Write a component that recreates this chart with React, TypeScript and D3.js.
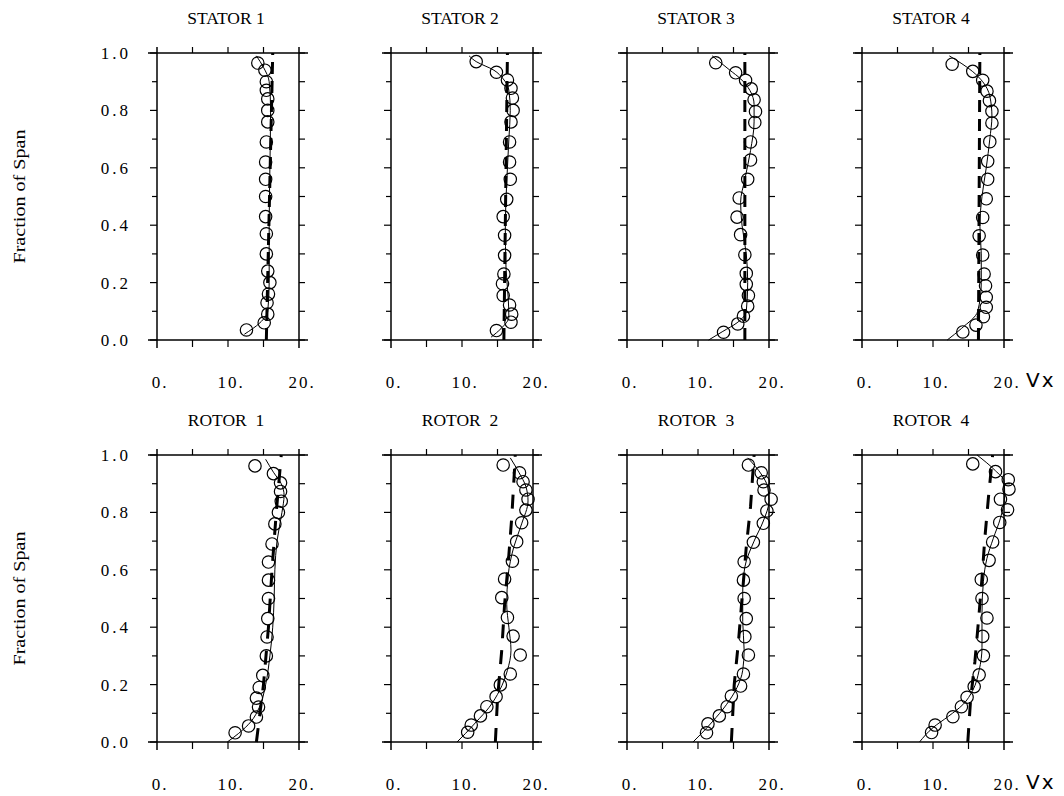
import React from "react";
import * as d3 from "d3";

type Pt = [number, number];

// measured points: [Vx, fraction of span]
const stator1Points: Pt[] = [
  [14.2, 0.965], [15.2, 0.94], [15.4, 0.9], [15.4, 0.87], [15.6, 0.84], [15.6, 0.8], [15.6, 0.76],
  [15.4, 0.69], [15.3, 0.62], [15.3, 0.56], [15.3, 0.5], [15.3, 0.43], [15.4, 0.37], [15.4, 0.3],
  [15.6, 0.24], [15.9, 0.2], [15.7, 0.16], [15.5, 0.13], [15.6, 0.09], [15.1, 0.06], [12.6, 0.035],
];
const stator1Solid: Pt[] = [
  [12.3, 0.02], [14.5, 0.06], [15.6, 0.1], [15.8, 0.2], [15.8, 0.4], [15.9, 0.6], [16.0, 0.8],
  [15.8, 0.9], [15.0, 0.95], [14.0, 0.99],
];
const stator1Dashed: Pt[] = [[15.4, 0], [16.3, 1]];

const stator2Points: Pt[] = [
  [12.0, 0.97], [14.85, 0.933], [16.4, 0.906], [16.9, 0.877], [17.1, 0.843], [17.2, 0.8], [16.9, 0.76],
  [16.7, 0.69], [16.7, 0.62], [16.8, 0.56], [16.3, 0.49], [15.8, 0.43], [16.0, 0.365], [16.0, 0.295],
  [15.9, 0.23], [15.7, 0.196], [15.8, 0.155], [16.7, 0.122], [17.0, 0.09], [16.9, 0.062], [14.85, 0.033],
];
const stator2Solid: Pt[] = [
  [14.1, 0.01], [15.5, 0.04], [16.6, 0.08], [16.5, 0.15], [16.2, 0.25], [16.1, 0.4], [16.3, 0.55],
  [16.6, 0.7], [16.8, 0.8], [16.6, 0.87], [15.8, 0.91], [14.5, 0.94], [12.0, 0.97], [11.0, 0.99],
];
const stator2Dashed: Pt[] = [[15.9, 0], [16.4, 1]];

const stator3Points: Pt[] = [
  [12.5, 0.966], [15.3, 0.931], [16.7, 0.905], [17.5, 0.875], [17.9, 0.837], [18.1, 0.796], [18.0, 0.758],
  [17.4, 0.69], [17.4, 0.627], [17.0, 0.56], [15.8, 0.495], [15.5, 0.428], [16.0, 0.367], [16.6, 0.297],
  [16.8, 0.232], [16.8, 0.194], [17.1, 0.155], [17.0, 0.118], [16.4, 0.083], [15.6, 0.056], [13.6, 0.027],
];
const stator3Solid: Pt[] = [
  [11.5, 0.0], [13.5, 0.03], [15.5, 0.06], [16.8, 0.1], [17.0, 0.2], [16.8, 0.3], [16.2, 0.4],
  [16.0, 0.48], [16.6, 0.56], [17.4, 0.66], [17.9, 0.76], [17.9, 0.82], [17.3, 0.87], [16.0, 0.91],
  [14.5, 0.94], [12.0, 0.99],
];
const stator3Dashed: Pt[] = [[16.6, 0], [16.6, 1]];

const stator4Points: Pt[] = [
  [12.7, 0.961], [15.6, 0.936], [17.0, 0.905], [17.6, 0.867], [17.95, 0.834], [18.3, 0.797], [18.3, 0.756],
  [18.0, 0.691], [17.7, 0.623], [17.7, 0.56], [17.5, 0.492], [17.0, 0.427], [16.5, 0.363], [17.0, 0.296],
  [17.2, 0.23], [17.4, 0.189], [17.5, 0.149], [17.5, 0.114], [17.1, 0.081], [16.05, 0.052], [14.2, 0.028],
];
const stator4Solid: Pt[] = [
  [12.0, 0.0], [14.0, 0.04], [16.3, 0.1], [16.8, 0.2], [16.8, 0.3], [16.6, 0.4], [16.9, 0.5],
  [17.5, 0.6], [18.0, 0.7], [18.3, 0.78], [18.0, 0.85], [17.0, 0.9], [15.6, 0.935], [12.3, 0.99],
];
const stator4Dashed: Pt[] = [[16.4, 0], [16.6, 1]];

const rotor1Points: Pt[] = [
  [13.8, 0.962], [16.4, 0.935], [17.4, 0.903], [17.4, 0.873], [17.5, 0.839], [17.1, 0.8], [16.6, 0.76],
  [16.2, 0.69], [15.7, 0.627], [15.7, 0.564], [15.7, 0.5], [15.6, 0.43], [15.5, 0.366], [15.4, 0.3],
  [14.9, 0.232], [14.4, 0.19], [14.0, 0.153], [14.3, 0.122], [14.0, 0.087], [12.9, 0.056], [11.0, 0.032],
];
const rotor1Solid: Pt[] = [
  [9.9, 0.0], [11.5, 0.03], [13.2, 0.07], [14.4, 0.12], [15.3, 0.2], [15.9, 0.3], [16.3, 0.4],
  [16.5, 0.5], [16.6, 0.6], [16.9, 0.7], [17.6, 0.8], [17.9, 0.86], [17.5, 0.9], [16.4, 0.94], [15.3, 0.985],
];
const rotor1Dashed: Pt[] = [[14.0, 0], [15.0, 0.2], [15.7, 0.4], [16.2, 0.6], [16.8, 0.8], [17.5, 1.0]];

const rotor2Points: Pt[] = [
  [15.8, 0.965], [18.1, 0.938], [18.6, 0.907], [19.0, 0.878], [19.3, 0.846], [19.0, 0.808], [18.4, 0.764],
  [17.7, 0.698], [17.1, 0.63], [16.0, 0.568], [15.6, 0.503], [16.4, 0.434], [17.2, 0.369], [18.2, 0.303],
  [16.8, 0.237], [15.4, 0.199], [14.8, 0.158], [13.5, 0.123], [12.6, 0.091], [11.3, 0.059], [10.8, 0.034],
];
const rotor2Solid: Pt[] = [
  [9.3, 0.0], [10.5, 0.03], [12.0, 0.07], [13.8, 0.12], [15.3, 0.18], [16.4, 0.25], [16.9, 0.32],
  [16.6, 0.4], [16.3, 0.48], [16.5, 0.58], [17.3, 0.68], [18.4, 0.76], [19.3, 0.84], [19.0, 0.89],
  [18.0, 0.94], [16.8, 0.99],
];
const rotor2Dashed: Pt[] = [[14.7, 0], [15.0, 0.15], [15.6, 0.32], [16.0, 0.48], [16.5, 0.62], [17.0, 0.78], [17.4, 0.95], [17.5, 1.0]];

const rotor3Points: Pt[] = [
  [17.1, 0.965], [18.9, 0.938], [19.2, 0.907], [19.3, 0.878], [20.3, 0.846], [19.7, 0.805], [19.2, 0.762],
  [17.8, 0.696], [16.5, 0.628], [16.4, 0.564], [16.5, 0.5], [16.8, 0.43], [16.6, 0.367], [17.1, 0.303],
  [16.4, 0.237], [16.0, 0.195], [14.7, 0.16], [14.1, 0.123], [13.0, 0.091], [11.4, 0.063], [11.2, 0.032],
];
const rotor3Solid: Pt[] = [
  [9.3, 0.0], [10.5, 0.03], [12.0, 0.07], [14.0, 0.13], [15.5, 0.19], [16.3, 0.25], [16.5, 0.32],
  [16.3, 0.42], [16.3, 0.52], [16.6, 0.61], [17.9, 0.7], [19.2, 0.77], [20.0, 0.84], [19.8, 0.89],
  [19.0, 0.93], [17.0, 0.99],
];
const rotor3Dashed: Pt[] = [[14.7, 0], [15.1, 0.2], [15.7, 0.35], [16.2, 0.5], [16.8, 0.68], [17.4, 0.82], [17.9, 1.0]];

const rotor4Points: Pt[] = [
  [15.6, 0.969], [18.8, 0.942], [20.6, 0.914], [20.7, 0.881], [19.5, 0.846], [20.5, 0.809], [19.4, 0.765],
  [18.4, 0.697], [17.9, 0.633], [16.8, 0.566], [16.9, 0.5], [17.6, 0.432], [17.0, 0.368], [17.1, 0.301],
  [16.5, 0.234], [15.8, 0.193], [14.8, 0.156], [14.0, 0.123], [12.8, 0.088], [10.3, 0.059], [9.8, 0.033],
];
const rotor4Solid: Pt[] = [
  [8.1, 0.0], [10.0, 0.05], [12.2, 0.09], [14.2, 0.13], [15.6, 0.18], [16.5, 0.25], [16.9, 0.33],
  [16.9, 0.45], [17.1, 0.56], [17.6, 0.64], [18.5, 0.71], [19.5, 0.78], [20.1, 0.86], [20.0, 0.91],
  [18.8, 0.945], [16.2, 1.0],
];
const rotor4Dashed: Pt[] = [[14.9, 0], [15.3, 0.15], [15.9, 0.28], [16.4, 0.42], [16.9, 0.57], [17.3, 0.71], [17.8, 0.85], [18.4, 1.0]];

const titles = ["STATOR 1", "STATOR 2", "STATOR 3", "STATOR 4", "ROTOR  1", "ROTOR  2", "ROTOR  3", "ROTOR  4"];
const xTickValues = [0, 10, 20];
const xTickLabels = ["0.", "10.", "20."];
const yTickValues = [0, 0.2, 0.4, 0.6, 0.8, 1.0];
const yTickLabels = ["0.0", "0.2", "0.4", "0.6", "0.8", "1.0"];
const yAxisTitle = "Fraction of Span";
const xAxisUnit = "Vx";

const panels = [
  { points: stator1Points, solid: stator1Solid, dashed: stator1Dashed },
  { points: stator2Points, solid: stator2Solid, dashed: stator2Dashed },
  { points: stator3Points, solid: stator3Solid, dashed: stator3Dashed },
  { points: stator4Points, solid: stator4Solid, dashed: stator4Dashed },
  { points: rotor1Points, solid: rotor1Solid, dashed: rotor1Dashed },
  { points: rotor2Points, solid: rotor2Solid, dashed: rotor2Dashed },
  { points: rotor3Points, solid: rotor3Solid, dashed: rotor3Dashed },
  { points: rotor4Points, solid: rotor4Solid, dashed: rotor4Dashed },
].map((p, i) => ({ ...p, title: titles[i] }));

// layout
const colLeft = [157, 391, 627, 862];
const rowTop = [53, 455];
const plotW = 142;
const plotH = 287;
const serif = "Liberation Serif, Times New Roman, serif";

function Panel({ p, col, row }: { p: any; col: number; row: number }) {
  const x = d3.scaleLinear().domain([0, 20]).range([colLeft[col], colLeft[col] + plotW]);
  const y = d3.scaleLinear().domain([0, 1]).range([rowTop[row] + plotH, rowTop[row]]);
  const line = d3.line<Pt>().x((d) => x(d[0])).y((d) => y(d[1])).curve(d3.curveMonotoneY);
  const straight = d3.line<Pt>().x((d) => x(d[0])).y((d) => y(d[1]));
  const [x0, x1] = x.range();
  const [yb, yt] = y.range();
  const minor = d3.range(0, 1.001, 0.1);
  const xMinor = d3.range(5, 20, 5);

  return (
    <g>
      <text x={(x0 + x1) / 2 - 2} y={yt - 29} textAnchor="middle" fontFamily={serif} fontSize={17.5}
        style={{ whiteSpace: "pre" }}>
        {p.title}
      </text>

      {/* frame */}
      <g stroke="#000" strokeWidth={1.5} fill="none">
        <line x1={x0 - 9} x2={x1 + 9} y1={yt} y2={yt} />
        <line x1={x0 - 9} x2={x1 + 9} y1={yb} y2={yb} />
        <line x1={x0} x2={x0} y1={yt - 6} y2={yb + 8} />
        <line x1={x1} x2={x1} y1={yt - 6} y2={yb + 8} />
      </g>
      <g stroke="#000" strokeWidth={1.2}>
        {minor.map((v, i) => (
          <g key={i}>
            <line x1={x0 - (i % 2 === 0 ? 7 : 5)} x2={x0} y1={y(v)} y2={y(v)} />
            <line x1={x1} x2={x1 + 6} y1={y(v)} y2={y(v)} />
          </g>
        ))}
        {xMinor.map((v) => (
          <g key={v}>
            <line x1={x(v)} x2={x(v)} y1={yt - 6} y2={yt} />
            <line x1={x(v)} x2={x(v)} y1={yb} y2={yb + 7} />
          </g>
        ))}
      </g>

      {/* x tick labels */}
      {xTickValues.map((v, i) => (
        <text key={v} x={x(v) + 3} y={yb + 48} textAnchor="middle" fontFamily={serif} fontSize={17}
          letterSpacing={2}>
          {xTickLabels[i]}
        </text>
      ))}

      {/* y tick labels only in first column */}
      {col === 0 &&
        yTickValues.map((v, i) => (
          <text key={v} x={x0 - 26} y={y(v) + 6} textAnchor="end" fontFamily={serif} fontSize={17}
            letterSpacing={3}>
            {yTickLabels[i]}
          </text>
        ))}
      {col === 0 && (
        <text transform={`translate(25,${(yt + yb) / 2}) rotate(-90)`} textAnchor="middle"
          fontFamily={serif} fontSize={16} textLength={134} lengthAdjust="spacingAndGlyphs">
          {yAxisTitle}
        </text>
      )}
      {col === 3 && (
        <text x={x1 + 22} y={yb + 47} fontFamily="DejaVu Sans, sans-serif" fontSize={20} letterSpacing={2}>
          {xAxisUnit}
        </text>
      )}

      {/* dashed model line */}
      <path d={straight(p.dashed) || ""} fill="none" stroke="#000" strokeWidth={3} strokeDasharray={row === 0 ? "12 7" : "14 12"} />
      {/* solid fitted profile */}
      <path d={line(p.solid) || ""} fill="none" stroke="#000" strokeWidth={1} />
      {/* measurement circles */}
      {p.points.map((d: Pt, i: number) => (
        <circle key={i} cx={x(d[0])} cy={y(d[1])} r={6.2} fill="none" stroke="#000" strokeWidth={1.2} />
      ))}
    </g>
  );
}

export default function App() {
  return (
    <svg width={1064} height={796} style={{ position: "absolute", left: 0, top: 0, background: "#fff" }}>
      <rect width={1064} height={796} fill="#fff" />
      {panels.map((p, i) => (
        <Panel key={i} p={p} col={i % 4} row={Math.floor(i / 4)} />
      ))}
    </svg>
  );
}
